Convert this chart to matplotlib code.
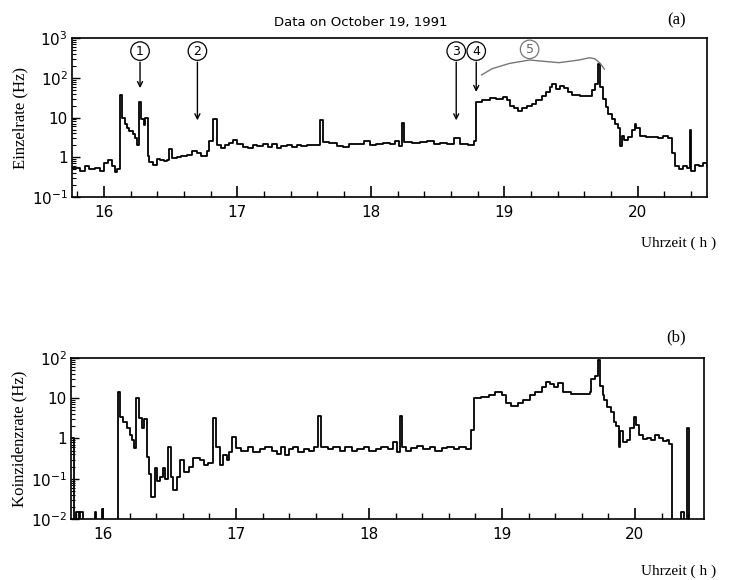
import numpy as np
import matplotlib
matplotlib.use('Agg')
import matplotlib.pyplot as plt
from matplotlib.ticker import FixedLocator, MultipleLocator, NullFormatter, LogLocator

# (a) Einzelrate: step start time (h) and rate (Hz)
einzel_t = [15.76, 15.78, 15.82, 15.86, 15.89, 15.93, 15.97, 16.00, 16.03, 16.06, 16.08, 16.10,
            16.12, 16.135, 16.16, 16.17, 16.19, 16.22, 16.23, 16.25, 16.26, 16.28, 16.30, 16.31,
            16.33, 16.34, 16.37, 16.40, 16.42, 16.45, 16.47, 16.49, 16.51, 16.55, 16.58, 16.62,
            16.66, 16.70, 16.73, 16.77, 16.79, 16.82, 16.85, 16.88, 16.91, 16.94, 16.97, 17.00,
            17.04, 17.08, 17.12, 17.15, 17.19, 17.23, 17.26, 17.30, 17.33, 17.37, 17.41, 17.45,
            17.48, 17.52, 17.56, 17.60, 17.62, 17.64, 17.69, 17.75, 17.79, 17.84, 17.90, 17.95,
            17.99, 18.04, 18.09, 18.14, 18.18, 18.21, 18.23, 18.25, 18.31, 18.37, 18.42, 18.47,
            18.52, 18.57, 18.62, 18.67, 18.73, 18.77, 18.79, 18.83, 18.89, 18.94, 18.99, 19.02,
            19.04, 19.07, 19.10, 19.13, 19.17, 19.21, 19.24, 19.28, 19.31, 19.34, 19.36, 19.39,
            19.42, 19.45, 19.48, 19.51, 19.57, 19.63, 19.66, 19.68, 19.70, 19.72, 19.74, 19.76,
            19.78, 19.81, 19.83, 19.85, 19.87, 19.88, 19.90, 19.93, 19.96, 19.98, 19.99, 20.02,
            20.06, 20.10, 20.15, 20.19, 20.23, 20.26, 20.28, 20.31, 20.34, 20.37, 20.39, 20.40,
            20.43, 20.46, 20.49, 20.52]
einzel_r = [0.55, 0.55, 0.45, 0.6, 0.5, 0.55, 0.45, 0.7, 0.85, 0.6, 0.42, 0.5,
            37, 10, 7, 5.5, 4.5, 3.8, 3, 2, 25, 9, 6.5, 10,
            1.1, 0.75, 0.65, 0.9, 0.85, 0.8, 0.85, 1.6, 0.95, 1.0, 1.05, 1.15,
            1.4, 1.3, 1.1, 1.4, 2.5, 9, 2.0, 1.7, 2.0, 2.3, 2.7, 2.2,
            1.8, 1.7, 2.0, 1.9, 2.1, 1.8, 2.1, 1.7, 1.95, 2.0, 1.8, 2.0,
            1.9, 2.0, 2.0, 2.0, 8.5, 2.4, 2.3, 1.9, 1.8, 2.1, 2.2, 2.5,
            2.0, 2.2, 2.3, 2.2, 2.6, 1.9, 7.5, 2.4, 2.3, 2.4, 2.6, 2.2,
            2.3, 2.1, 3.0, 2.1, 2.0, 2.6, 25, 28, 31, 30, 33, 28,
            20, 17, 15, 17, 20, 22, 28, 35, 45, 60, 70, 52,
            62, 55, 45, 37, 35, 35, 50, 70, 220, 60, 30, 18,
            12, 9, 7, 5.5, 1.9, 3.5, 2.8, 3.2, 5, 7, 5.5, 3.5,
            3.2, 3.3, 3.0, 3.4, 3.0, 1.3, 0.6, 0.5, 0.6, 0.55, 4.8, 0.45,
            0.65, 0.6, 0.7, 0.6]

# (b) Koinzidenzrate: step start time (h) and rate (Hz), 0 = no counts
koinz_t = [15.77, 15.78, 15.80, 15.82, 15.83, 15.85, 15.94, 15.95, 15.99, 16.00, 16.11, 16.13,
           16.15, 16.18, 16.20, 16.22, 16.23, 16.25, 16.27, 16.29, 16.31, 16.33, 16.35, 16.36,
           16.39, 16.41, 16.43, 16.45, 16.47, 16.49, 16.51, 16.53, 16.56, 16.58, 16.61, 16.65,
           16.68, 16.73, 16.76, 16.79, 16.82, 16.83, 16.85, 16.88, 16.90, 16.93, 16.95, 16.97,
           17.00, 17.04, 17.09, 17.13, 17.18, 17.22, 17.27, 17.31, 17.34, 17.37, 17.40, 17.43,
           17.47, 17.51, 17.55, 17.59, 17.62, 17.64, 17.69, 17.73, 17.78, 17.82, 17.87, 17.91,
           17.96, 18.00, 18.05, 18.09, 18.14, 18.18, 18.21, 18.23, 18.25, 18.28, 18.32, 18.36,
           18.41, 18.46, 18.50, 18.55, 18.59, 18.64, 18.68, 18.73, 18.77, 18.79, 18.84, 18.90,
           18.95, 19.00, 19.03, 19.07, 19.12, 19.16, 19.21, 19.25, 19.30, 19.33, 19.36, 19.39,
           19.42, 19.46, 19.52, 19.60, 19.66, 19.67, 19.70, 19.72, 19.74, 19.76, 19.77, 19.79,
           19.82, 19.84, 19.86, 19.88, 19.89, 19.91, 19.94, 19.96, 19.99, 20.01, 20.03, 20.06,
           20.09, 20.12, 20.15, 20.18, 20.21, 20.24, 20.26, 20.28, 20.35, 20.37, 20.39, 20.41,
           20.53]
koinz_r = [1.0, 0, 0.015, 0, 0.015, 0, 0.015, 0, 0.018, 0, 14, 3.4,
           2.6, 1.8, 1.2, 0.9, 0.58, 10, 3.2, 1.8, 3.0, 0.35, 0.13, 0.035,
           0.19, 0.09, 0.11, 0.19, 0.1, 0.62, 0.11, 0.052, 0.11, 0.29, 0.15, 0.2,
           0.33, 0.3, 0.22, 0.25, 0.25, 3.2, 0.6, 0.22, 0.39, 0.3, 0.45, 1.1,
           0.58, 0.5, 0.6, 0.45, 0.55, 0.6, 0.5, 0.42, 0.6, 0.38, 0.55, 0.62,
           0.45, 0.55, 0.5, 0.6, 3.6, 0.62, 0.55, 0.6, 0.5, 0.62, 0.5, 0.55,
           0.62, 0.5, 0.55, 0.6, 0.55, 0.8, 0.45, 3.6, 0.6, 0.5, 0.58, 0.65,
           0.55, 0.62, 0.5, 0.58, 0.62, 0.55, 0.6, 0.55, 1.6, 10, 11, 12,
           14, 12, 7.5, 6.5, 7.5, 9, 12, 14, 19, 25, 22, 19,
           24, 14, 13, 12.5, 14, 30, 35, 89, 20, 12, 9, 6,
           4.6, 2.6, 2.0, 0.6, 1.5, 0.8, 0.9, 1.8, 3.4, 2.2, 1.2, 0.95,
           1.0, 0.9, 1.2, 1.0, 0.85, 0.9, 0.75, 0, 0.015, 0, 1.8, 0,
           0]

# marked events in panel (a): label, time (h), arrow tip (Hz)
event_labels = ['1', '2', '3', '4']
event_t = [16.27, 16.70, 18.64, 18.79]
event_tip = [55, 8.5, 8.5, 44]

fig = plt.figure(figsize=(7.43, 5.80), dpi=100)
serif = 'Liberation Serif'


def style_axes(ax, ylo, yhi, ylabels):
    ax.set_xlim(15.76, 20.52)
    ax.set_yscale('log')
    ax.set_ylim(ylo, yhi)
    ax.xaxis.set_major_locator(FixedLocator([16, 17, 18, 19, 20]))
    ax.xaxis.set_minor_locator(MultipleLocator(0.2))
    ax.set_xticklabels(['16', '17', '18', '19', '20'])
    ax.yaxis.set_minor_locator(LogLocator(base=10, subs=np.arange(2, 10), numticks=20))
    ax.yaxis.set_minor_formatter(NullFormatter())
    ax.set_yticks([10.0 ** k for k in range(int(np.log10(ylo)), int(np.log10(yhi)) + 1)])
    ax.set_yticklabels(ylabels)
    ax.tick_params(axis='x', which='major', direction='in', length=8, width=1.2,
                   labelsize=11, pad=6)
    ax.tick_params(axis='x', which='minor', direction='in', length=4, width=1.0)
    ax.tick_params(axis='y', which='major', direction='in', length=6, width=1.0,
                   labelsize=11, pad=3)
    ax.tick_params(axis='y', which='minor', direction='in', length=3, width=0.8)
    for s in ax.spines.values():
        s.set_linewidth(1.2)


# ---- panel (a)
ax1 = fig.add_axes([0.0969, 0.6603, 0.8547, 0.2741])
ax1.plot(einzel_t, einzel_r, drawstyle='steps-post', color='black', lw=1.3)
style_axes(ax1, 0.1, 1000, ['$10^{-1}$', '1', '10', '$10^{2}$', '$10^{3}$'])
ax1.set_ylabel('Einzelrate (Hz)', family=serif, fontsize=12, labelpad=2)

for lab, t, tip in zip(event_labels, event_t, event_tip):
    ax1.annotate(lab, xy=(t, tip), xytext=(t, 470), ha='center', va='center', fontsize=9,
                 bbox=dict(boxstyle='circle,pad=0.22', fc='white', ec='black', lw=0.9),
                 arrowprops=dict(arrowstyle='->', color='black', lw=1.0, shrinkA=1, shrinkB=0))

# gray bracket over the long event 5
brace_t = [18.83, 18.91, 19.04, 19.19, 19.41, 19.56, 19.64, 19.68, 19.72, 19.75]
brace_y = [118, 170, 230, 280, 240, 280, 320, 300, 230, 165]
ax1.plot(brace_t, brace_y, color='#777777', lw=1.0)
ax1.text(19.19, 520, '5', ha='center', va='center', fontsize=9, color='#666666',
         bbox=dict(boxstyle='circle,pad=0.22', fc='white', ec='#777777', lw=0.9))

# ---- panel (b)
ax2 = fig.add_axes([0.0956, 0.1052, 0.852, 0.2776])
koinz_plot = np.where(np.array(koinz_r) > 0, koinz_r, 1e-3)
ax2.plot(koinz_t, koinz_plot, drawstyle='steps-post', color='black', lw=1.3)
style_axes(ax2, 0.01, 100, ['$10^{-2}$', '$10^{-1}$', '1', '10', '$10^{2}$'])
ax2.set_ylabel('Koinzidenzrate (Hz)', family=serif, fontsize=12, labelpad=2)

# ---- figure texts
fig.text(0.485, 0.962, 'Data on October 19, 1991', ha='center', va='center', fontsize=9.5)
fig.text(0.91, 0.965, '(a)', ha='center', va='center', family=serif, fontsize=12)
fig.text(0.91, 0.418, '(b)', ha='center', va='center', family=serif, fontsize=12)
fig.text(0.913, 0.58, 'Uhrzeit ( h )', ha='center', va='center', family=serif, fontsize=11)
fig.text(0.913, 0.015, 'Uhrzeit ( h )', ha='center', va='center', family=serif, fontsize=11)

fig.savefig('out.png', dpi=100)
